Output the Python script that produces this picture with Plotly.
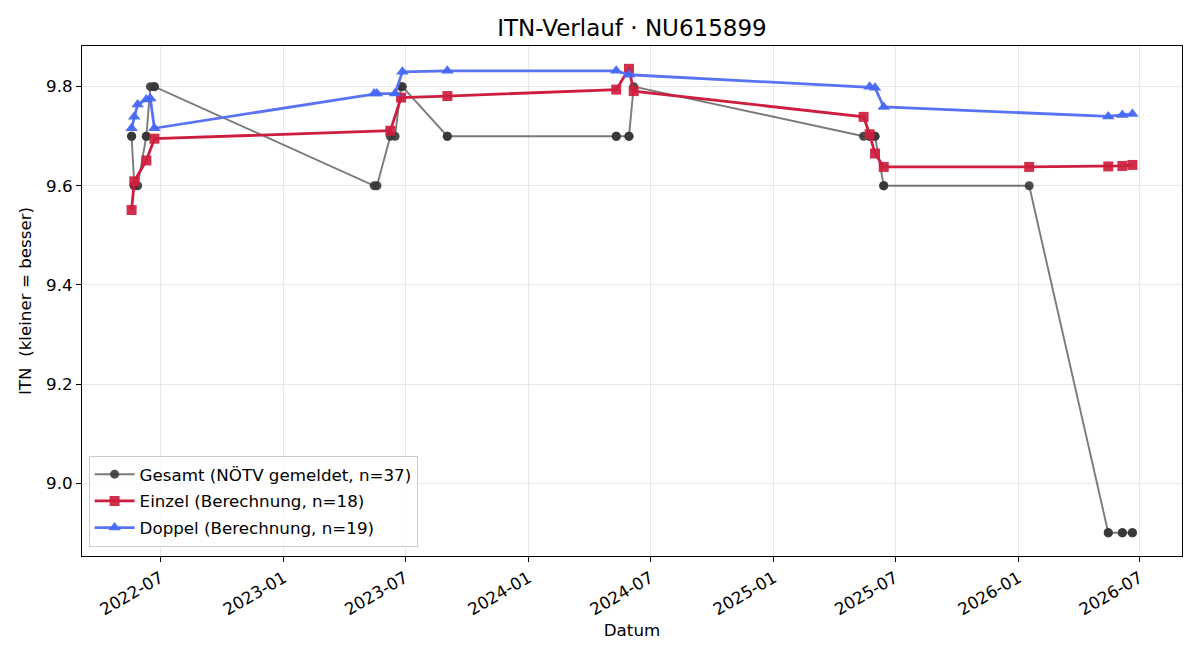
import plotly.graph_objects as go

# ---- data ----
einzel_dates = ["2022-05-19", "2022-05-23", "2022-06-10", "2022-06-22",
                "2023-06-09", "2023-06-25", "2023-09-02",
                "2024-05-11", "2024-05-30", "2024-06-06",
                "2025-05-15", "2025-05-24", "2025-06-01", "2025-06-14",
                "2026-01-17", "2026-05-15", "2026-06-05", "2026-06-20"]
einzel_itn = [9.551, 9.609, 9.651, 9.695,
              9.711, 9.778, 9.781,
              9.794, 9.836, 9.791,
              9.739, 9.704, 9.665, 9.638,
              9.638, 9.639, 9.640, 9.642]

doppel_dates = ["2022-05-19", "2022-05-23", "2022-05-28", "2022-06-10", "2022-06-16", "2022-06-22",
                "2023-05-16", "2023-05-20", "2023-06-16", "2023-06-27", "2023-09-02",
                "2024-05-11", "2024-05-30",
                "2025-05-24", "2025-06-01", "2025-06-14",
                "2026-05-15", "2026-06-05", "2026-06-20"]
doppel_itn = [9.716, 9.739, 9.764, 9.774, 9.776, 9.716,
              9.786, 9.786, 9.786, 9.830, 9.832,
              9.832, 9.824,
              9.800, 9.798, 9.759,
              9.740, 9.743, 9.745]

gesamt_dates = ["2022-05-19", "2022-05-19", "2022-05-23", "2022-05-23", "2022-05-28",
                "2022-06-10", "2022-06-10", "2022-06-16", "2022-06-22", "2022-06-22",
                "2023-05-16", "2023-05-20", "2023-06-09", "2023-06-16", "2023-06-25", "2023-06-27",
                "2023-09-02", "2023-09-02",
                "2024-05-11", "2024-05-11", "2024-05-30", "2024-05-30", "2024-06-06",
                "2025-05-15", "2025-05-24", "2025-05-24", "2025-06-01", "2025-06-01",
                "2025-06-14", "2025-06-14", "2026-01-17",
                "2026-05-15", "2026-05-15", "2026-06-05", "2026-06-05", "2026-06-20", "2026-06-20"]
gesamt_itn = [9.7, 9.7, 9.6, 9.6, 9.6,
              9.7, 9.7, 9.8, 9.8, 9.8,
              9.6, 9.6, 9.7, 9.7, 9.8, 9.8,
              9.7, 9.7,
              9.7, 9.7, 9.7, 9.7, 9.8,
              9.7, 9.7, 9.7, 9.7, 9.7,
              9.6, 9.6, 9.6,
              8.9, 8.9, 8.9, 8.9, 8.9, 8.9]

y_ticks = [9.0, 9.2, 9.4, 9.6, 9.8]

FONT = "DejaVu Sans"
FS = 16.7

fig = go.Figure()
fig.add_trace(go.Scatter(
    x=gesamt_dates, y=gesamt_itn, mode="lines+markers",
    name=f"Gesamt (NÖTV gemeldet, n={len(gesamt_itn)})", legendgroup="g",
    line=dict(color="rgba(85,85,85,0.78)", width=1.9),
    marker=dict(symbol="circle", size=9, color="rgba(55,55,55,0.9)",
                line=dict(width=0)),
))
fig.add_trace(go.Scatter(
    x=einzel_dates, y=einzel_itn, mode="lines+markers",
    name=f"Einzel (Berechnung, n={len(einzel_itn)})", legendgroup="e",
    line=dict(color="rgb(205,30,62)", width=2.8),
    marker=dict(symbol="square", size=10, color="rgba(205,30,62,0.92)",
                line=dict(width=0)),
))
fig.add_trace(go.Scatter(
    x=doppel_dates, y=doppel_itn, mode="lines+markers",
    name=f"Doppel (Berechnung, n={len(doppel_itn)})", legendgroup="d",
    line=dict(color="rgb(88,116,245)", width=2.8),
    marker=dict(symbol="triangle-up", size=11, color="rgba(70,104,245,0.95)",
                line=dict(width=0)),
))

fig.update_layout(
    width=1200, height=660,
    margin=dict(l=82, r=18, t=46, b=104),
    paper_bgcolor="white", plot_bgcolor="white",
    font=dict(family=FONT, size=FS, color="black"),
    title=dict(text="ITN-Verlauf · NU615899", x=(82 + 550) / 1200, xanchor="center",
               y=1 - 28 / 660, yanchor="middle", font=dict(size=23, family=FONT)),
    showlegend=True,
    legend=dict(x=0.006, y=0.018, xanchor="left", yanchor="bottom",
                bgcolor="rgba(255,255,255,0.8)", bordercolor="rgb(204,204,204)",
                borderwidth=1, font=dict(size=FS, family=FONT),
                tracegroupgap=2, itemwidth=40),
)
fig.update_xaxes(
    type="date", range=["2022-03-06", "2026-09-02"],
    tick0="2022-01-01", dtick="M6", tickformat="%Y-%m", tickangle=-30,
    ticks="outside", ticklen=5, tickcolor="black", tickfont=dict(size=FS),
    showline=True, linecolor="black", linewidth=1, mirror=True,
    showgrid=True, gridcolor="rgb(231,231,231)", gridwidth=1,
    zeroline=False,
    title=dict(text="Datum", font=dict(size=FS), standoff=6),
)
fig.update_yaxes(
    range=[8.853, 9.882], tickvals=y_ticks, ticktext=[f"{v:.1f}" for v in y_ticks],
    ticks="outside", ticklen=5, tickcolor="black", tickfont=dict(size=FS),
    showline=True, linecolor="black", linewidth=1, mirror=True,
    showgrid=True, gridcolor="rgb(231,231,231)", gridwidth=1,
    zeroline=False,
    title=dict(text="ITN  (kleiner = besser)", font=dict(size=FS), standoff=10),
)

fig.write_html("out.html")
